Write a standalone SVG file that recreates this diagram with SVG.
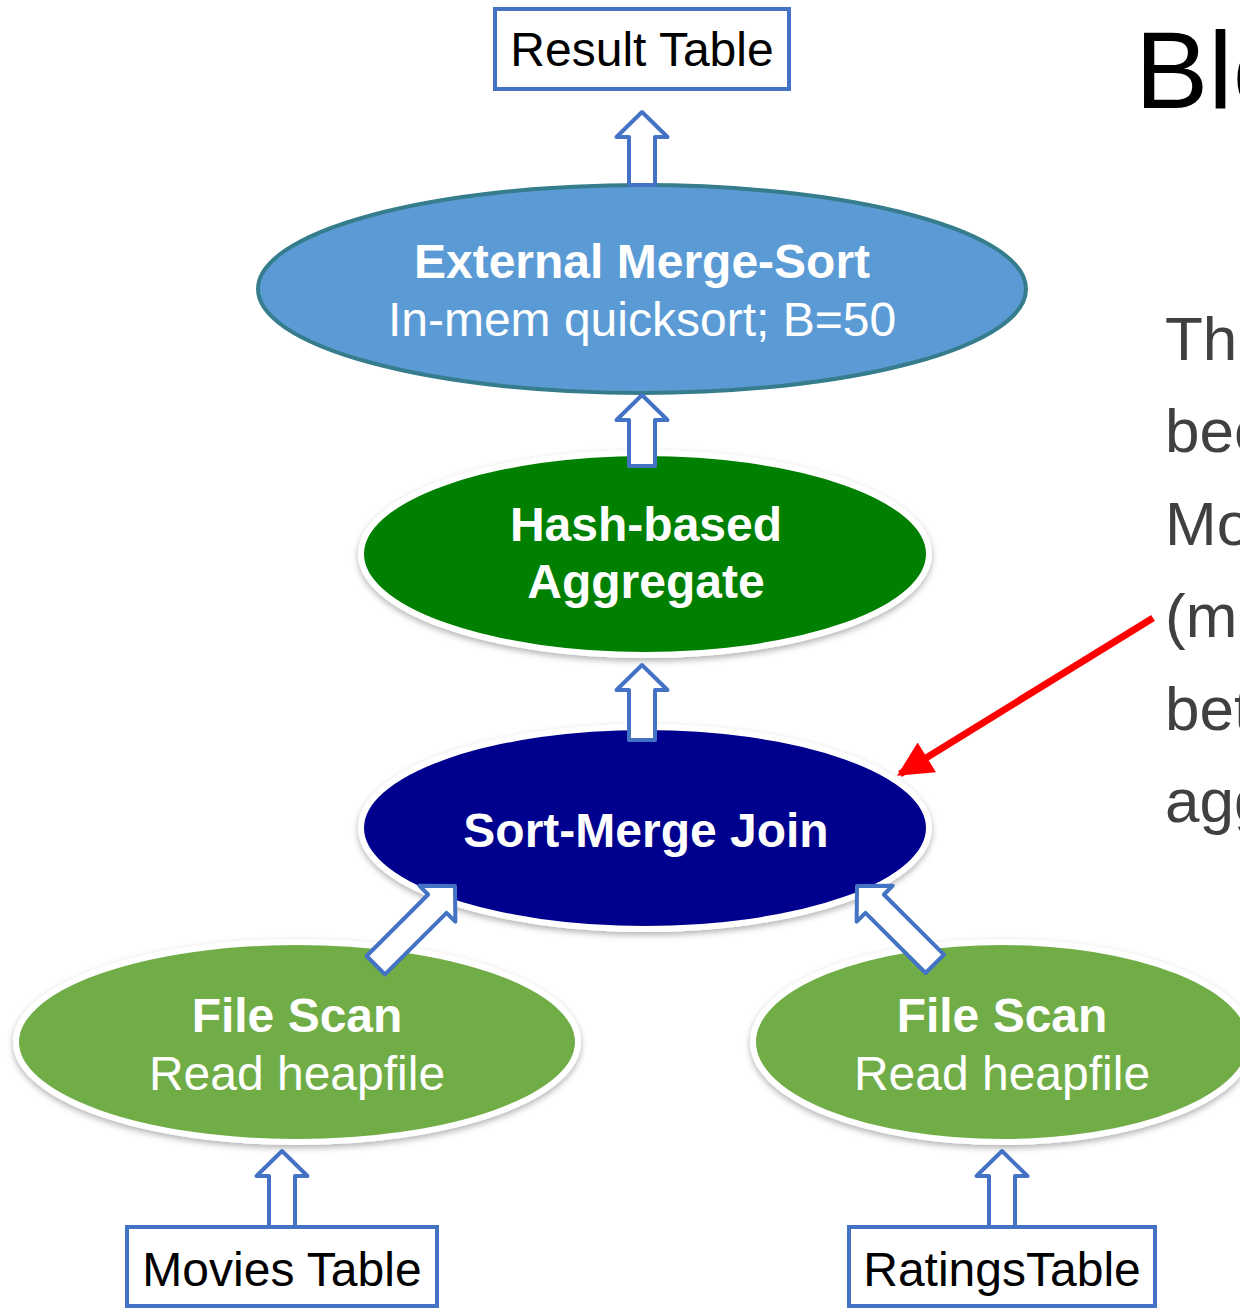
<svg xmlns="http://www.w3.org/2000/svg" width="1240" height="1308" viewBox="0 0 1240 1308">
<defs>
<style>
.box{fill:#fff;stroke:#4472C4;stroke-width:4}
.bt{font-family:"Liberation Sans",Arial,sans-serif;font-size:48px;fill:#000;text-anchor:middle}
.nb{font-family:"Liberation Sans",Arial,sans-serif;font-size:48px;font-weight:bold;fill:#fff;text-anchor:middle}
.nr{font-family:"Liberation Sans",Arial,sans-serif;font-size:48px;fill:#fff;text-anchor:middle}
.wl{stroke:#fff;stroke-width:6}
.blk{fill:#fff;stroke:#4472C4;stroke-width:4;stroke-linejoin:round}
.side{font-family:"Liberation Sans",Arial,sans-serif;font-size:62px;fill:#404040}
</style>
<filter id="sh" x="-10%" y="-10%" width="120%" height="130%">
<feDropShadow dx="0" dy="3" stdDeviation="3" flood-color="#000" flood-opacity="0.3"/>
</filter>
<marker id="rh" viewBox="0 0 10 10" refX="9" refY="5" markerWidth="5.5" markerHeight="5" orient="auto" markerUnits="strokeWidth">
<path d="M0,0 L10,5 L0,10 Z" fill="#FF0000"/>
</marker>
</defs>

<g id="result-table">
<rect class="box" x="495" y="9" width="294" height="80"/>
<text class="bt" x="642" y="66" font-size="47.5">Result Table</text>
</g>

<g id="external-merge-sort">
<ellipse cx="642" cy="289" rx="384" ry="104" fill="#5B9BD5" stroke="#357C8C" stroke-width="4"/>
<text class="nb" x="642" y="278">External Merge-Sort</text>
<text class="nr" x="642" y="336">In-mem quicksort; B=50</text>
</g>

<g id="hash-aggregate">
<ellipse class="wl" cx="645" cy="554" rx="284" ry="101" fill="#008000" filter="url(#sh)"/>
<text class="nb" x="646" y="541">Hash-based</text>
<text class="nb" x="646" y="598">Aggregate</text>
</g>

<g id="sort-merge-join">
<ellipse class="wl" cx="645" cy="828" rx="284" ry="101" fill="#00008E" filter="url(#sh)"/>
<text class="nb" x="646" y="847">Sort-Merge Join</text>
</g>

<g id="file-scan-left">
<ellipse class="wl" cx="297" cy="1042" rx="281" ry="100" fill="#70AD47" filter="url(#sh)"/>
<text class="nb" x="297" y="1032">File Scan</text>
<text class="nr" x="297" y="1090">Read heapfile</text>
</g>

<g id="file-scan-right">
<ellipse class="wl" cx="1002" cy="1042" rx="249" ry="100" fill="#70AD47" filter="url(#sh)"/>
<text class="nb" x="1002" y="1032">File Scan</text>
<text class="nr" x="1002" y="1090">Read heapfile</text>
</g>

<g id="movies-table">
<rect class="box" x="127" y="1227" width="310" height="79"/>
<text class="bt" x="282" y="1286">Movies Table</text>
</g>

<g id="ratings-table">
<rect class="box" x="849" y="1227" width="306" height="79"/>
<text class="bt" x="1002" y="1286">RatingsTable</text>
</g>

<g id="connectors">
<path class="blk" transform="translate(642,112)" d="M0,0 L25.5,25 L13,25 L13,73 L-13,73 L-13,25 L-25.5,25 Z"/>
<path class="blk" transform="translate(642,395)" d="M0,0 L25.5,25 L13,25 L13,71 L-13,71 L-13,25 L-25.5,25 Z"/>
<path class="blk" transform="translate(642,665)" d="M0,0 L25.5,25 L13,25 L13,75 L-13,75 L-13,25 L-25.5,25 Z"/>
<path class="blk" transform="translate(455,886) rotate(45)" d="M0,0 L25.5,25 L13,25 L13,112 L-13,112 L-13,25 L-25.5,25 Z"/>
<path class="blk" transform="translate(857,886) rotate(-45)" d="M0,0 L25.5,25 L13,25 L13,110 L-13,110 L-13,25 L-25.5,25 Z"/>
<path class="blk" transform="translate(282,1151)" d="M0,0 L25.5,25 L13,25 L13,76 L-13,76 L-13,25 L-25.5,25 Z"/>
<path class="blk" transform="translate(1002,1151)" d="M0,0 L25.5,25 L13,25 L13,76 L-13,76 L-13,25 L-25.5,25 Z"/>
<line x1="1153" y1="618" x2="900" y2="774" stroke="#FF0000" stroke-width="7" marker-end="url(#rh)"/>
</g>

<g id="side-text">
<text x="1135" y="108" font-family="'Liberation Sans',Arial,sans-serif" font-size="110" fill="#000">Blo</text>
<text class="side" x="1165" y="360">Th</text>
<text class="side" x="1165" y="452">bec</text>
<text class="side" x="1165" y="545">Mo</text>
<text class="side" x="1165" y="637">(m</text>
<text class="side" x="1165" y="730">bet</text>
<text class="side" x="1165" y="822">agg</text>
</g>
</svg>
